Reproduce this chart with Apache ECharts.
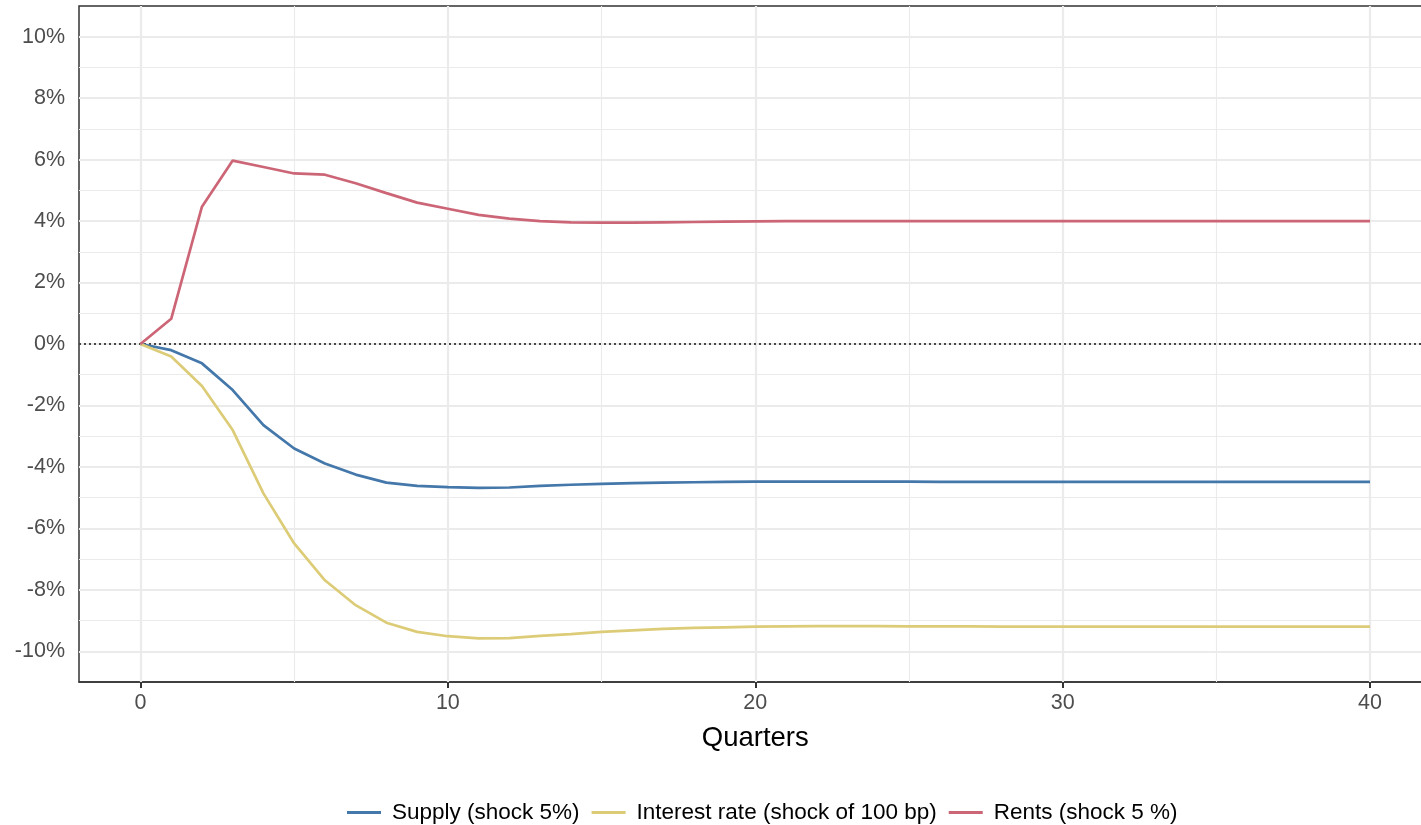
<!DOCTYPE html>
<html>
<head>
<meta charset="utf-8">
<script src="https://cdn.jsdelivr.net/npm/echarts@6/dist/echarts.min.js"></script>
<style>
html,body{margin:0;padding:0;background:#fff;}
#chart{width:1421px;height:825px;}
</style>
</head>
<body>
<div id="chart"></div>
<script>
var quarters = [];
for (var q = 0; q <= 40; q++) quarters.push(q);

var supply = [0, -0.20, -0.63, -1.50, -2.64, -3.40, -3.89, -4.25, -4.51, -4.62, -4.66,
  -4.68, -4.67, -4.62, -4.58, -4.55, -4.53, -4.51, -4.50, -4.49, -4.48,
  -4.48, -4.48, -4.48, -4.48, -4.48, -4.49, -4.49, -4.49, -4.49, -4.49,
  -4.49, -4.49, -4.49, -4.49, -4.49, -4.49, -4.49, -4.49, -4.49, -4.49];
var interest = [0, -0.41, -1.37, -2.80, -4.86, -6.49, -7.69, -8.50, -9.07, -9.37, -9.51,
  -9.58, -9.57, -9.50, -9.44, -9.37, -9.32, -9.27, -9.24, -9.22, -9.20,
  -9.19, -9.18, -9.18, -9.18, -9.19, -9.19, -9.19, -9.20, -9.20, -9.20,
  -9.20, -9.20, -9.20, -9.20, -9.20, -9.20, -9.20, -9.20, -9.20, -9.20];
var rents = [0, 0.82, 4.47, 5.97, 5.76, 5.55, 5.51, 5.23, 4.91, 4.60, 4.40,
  4.20, 4.08, 4.00, 3.96, 3.95, 3.95, 3.96, 3.97, 3.98, 3.99,
  4.00, 4.00, 4.00, 4.00, 4.00, 4.00, 4.00, 4.00, 4.00, 4.00,
  4.00, 4.00, 4.00, 4.00, 4.00, 4.00, 4.00, 4.00, 4.00, 4.00];

var seriesNames = ['Supply (shock 5%)', 'Interest rate (shock of 100 bp)', 'Rents (shock 5 %)'];
var xMajor = [0, 10, 20, 30, 40];
var xMinor = [5, 15, 25, 35];
var yMajor = [-10, -8, -6, -4, -2, 0, 2, 4, 6, 8, 10];
var yMinor = [-9, -7, -5, -3, -1, 1, 3, 5, 7, 9];

function pairs(ys) { return quarters.map(function (x, i) { return [x, ys[i]]; }); }

var gridColor = '#ebebeb';
var gridLines = [];
xMajor.forEach(function (v) { gridLines.push({ xAxis: v, lineStyle: { width: 2.2, color: gridColor, type: 'solid' } }); });
xMinor.forEach(function (v) { gridLines.push({ xAxis: v, lineStyle: { width: 1.1, color: gridColor, type: 'solid' } }); });
yMajor.forEach(function (v) { gridLines.push({ yAxis: v, lineStyle: { width: 2.2, color: gridColor, type: 'solid' } }); });
yMinor.forEach(function (v) { gridLines.push({ yAxis: v, lineStyle: { width: 1.1, color: gridColor, type: 'solid' } }); });

var chart = echarts.init(document.getElementById('chart'), null, { renderer: 'canvas' });
var labelFont = 'Liberation Sans, Arial, sans-serif';
chart.setOption({
  animation: false,
  backgroundColor: '#ffffff',
  grid: { left: 79, top: 6, width: 1352.5, bottom: 143, outerBoundsMode: 'none', containLabel: false,
    show: true, borderColor: '#333333', borderWidth: 1.5, backgroundColor: 'transparent' },
  legend: {
    top: 801,
    left: 347,
    padding: 0,
    itemWidth: 34,
    itemHeight: 3,
    itemGap: 12,
    icon: 'rect',
    textStyle: { fontFamily: labelFont, fontSize: 22.5, color: '#000000', padding: [0, 0, 0, 6] },
    data: seriesNames
  },
  xAxis: {
    type: 'value',
    min: -2,
    max: 42,
    name: 'Quarters',
    nameLocation: 'middle',
    nameGap: 42,
    nameTextStyle: { fontFamily: labelFont, fontSize: 27.5, color: '#000000' },
    axisLine: { show: true, onZero: false, lineStyle: { color: '#333333', width: 1.5 } },
    axisTick: { show: true, length: 6, lineStyle: { color: '#333333', width: 2 }, customValues: xMajor },
    axisLabel: { fontFamily: labelFont, fontSize: 21.5, color: '#4d4d4d', margin: 10, customValues: xMajor },
    splitLine: { show: false }
  },
  yAxis: {
    type: 'value',
    min: -11,
    max: 11,
    axisLine: { show: true, lineStyle: { color: '#333333', width: 1.5 } },
    axisTick: { show: true, length: 6, lineStyle: { color: '#333333', width: 2 }, customValues: yMajor },
    axisLabel: { fontFamily: labelFont, fontSize: 21.5, color: '#4d4d4d', margin: 14, customValues: yMajor,
      formatter: function (v) { return v + '%'; } },
    splitLine: { show: false }
  },
  series: [
    {
      name: '_grid', type: 'line', data: [], silent: true, z: 1, zlevel: 0,
      markLine: { silent: true, symbol: 'none', label: { show: false }, animation: false, data: gridLines }
    },
    {
      name: seriesNames[0], type: 'line', data: pairs(supply), showSymbol: false, symbol: 'none', zlevel: 1, z: 3,
      lineStyle: { color: '#4477AA', width: 2.7 }, itemStyle: { color: '#4477AA' },
      markLine: { silent: true, symbol: 'none', label: { show: false }, animation: false,
        data: [{ yAxis: 0, lineStyle: { color: '#111111', width: 1.6, type: [2, 3] } }] }
    },
    {
      name: seriesNames[1], type: 'line', data: pairs(interest), showSymbol: false, symbol: 'none', zlevel: 1, z: 3,
      lineStyle: { color: '#DDCC77', width: 2.7 }, itemStyle: { color: '#DDCC77' }
    },
    {
      name: seriesNames[2], type: 'line', data: pairs(rents), showSymbol: false, symbol: 'none', zlevel: 1, z: 3,
      lineStyle: { color: '#CC6677', width: 2.7 }, itemStyle: { color: '#CC6677' }
    }
  ]
});
</script>
</body>
</html>
